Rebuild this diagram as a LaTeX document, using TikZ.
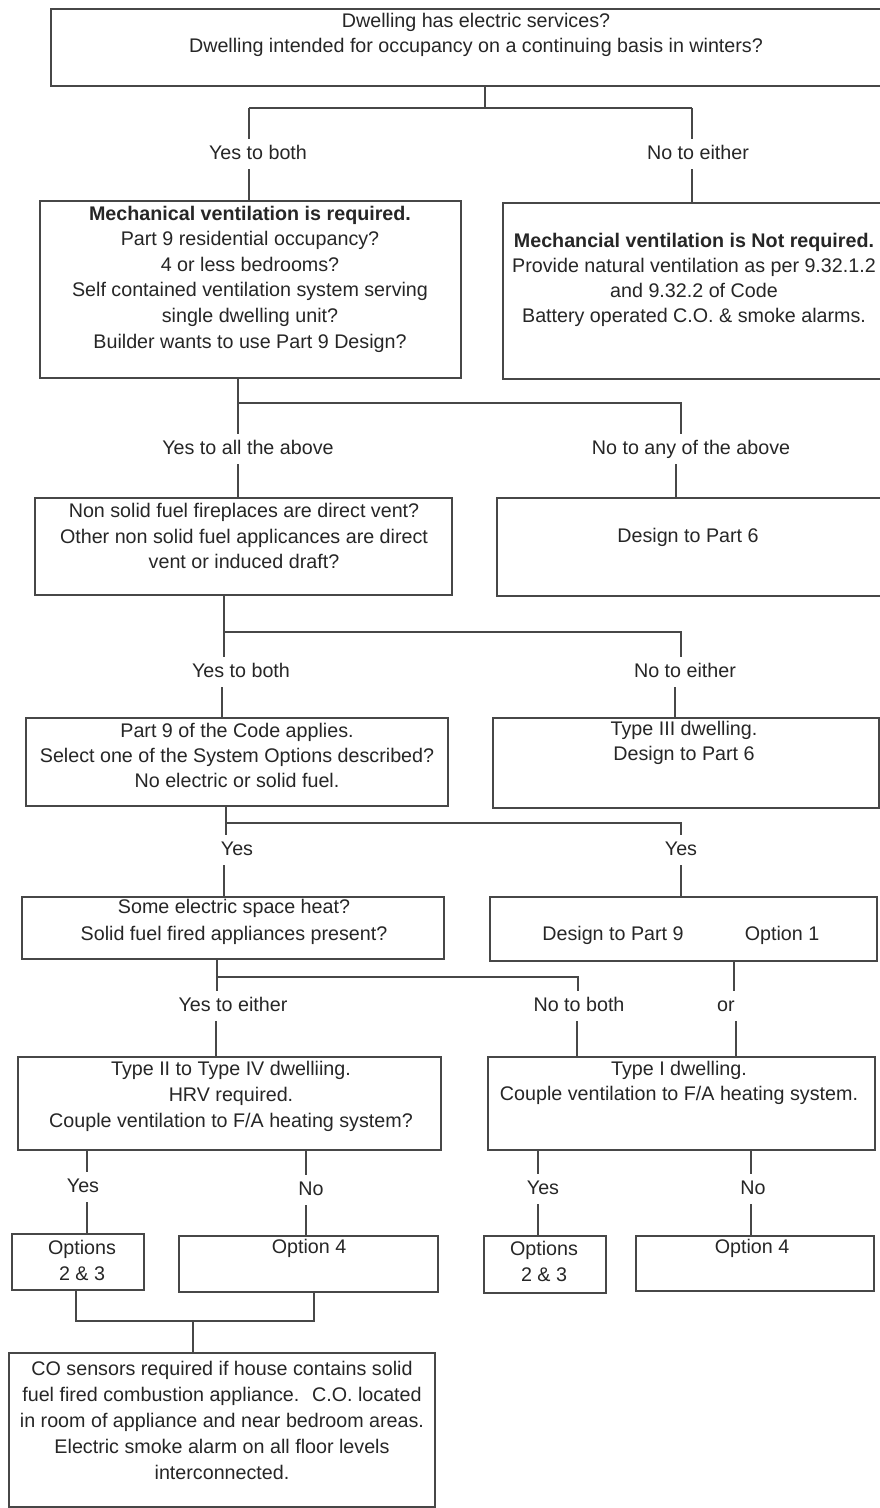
\documentclass[tikz,border=0pt]{standalone}
\usepackage{fontspec}
\setmainfont{Liberation Sans}
\newcommand\mybox[5]{\node[box,anchor=north west,minimum width={#4-#2},minimum height={#5-#3}] (#1) at (#2,#3) {};}
\begin{document}
\begin{tikzpicture}[x=1pt,y=-1pt,
  box/.style={draw=black!72,line width=1.6pt,inner sep=0pt},
  txt/.style={text=black!85,font=\fontsize{19.7}{25.6}\selectfont,align=center,inner sep=0pt},
  lbl/.style={text=black!85,font=\fontsize{19.7}{25.6}\selectfont,text height=15pt,text depth=5pt,inner xsep=2pt,inner ysep=5pt,anchor=base},
  conn/.style={draw=black!72,line width=1.1pt}]
\fill[white] (0,0) rectangle (879,1508);
\useasboundingbox (0,0) rectangle (879,1508);

% boxes
\mybox{b1}{50}{8}{900}{85}
\mybox{b2L}{39}{200}{460}{377}
\mybox{b2R}{502}{202}{900}{378}
\mybox{b3L}{34}{497}{451}{594}
\mybox{b3R}{496}{497}{900}{595}
\mybox{b4L}{25}{717}{447}{805}
\mybox{b4R}{492}{717}{878}{807}
\mybox{b5L}{21}{896}{443}{958}
\mybox{b5R}{489}{896}{876}{960}
\mybox{b6L}{17}{1056}{440}{1149}
\mybox{b6R}{487}{1056}{874}{1149}
\mybox{b7a}{11}{1233}{143}{1289}
\mybox{b7b}{178}{1235}{437}{1291}
\mybox{b7c}{483}{1235}{605}{1292}
\mybox{b7d}{635}{1235}{873}{1290}
\mybox{b8}{8}{1352}{434}{1506}

% box texts
\node[txt] (t1) at (476,35) {Dwelling has electric services?\\Dwelling intended for occupancy on a continuing basis in winters?};
\node[txt] (t2L) at (250,279) {\textbf{Mechanical ventilation is required.}\\Part 9 residential occupancy?\\4 or less bedrooms?\\Self contained ventilation system serving\\single dwelling unit?\\Builder wants to use Part 9 Design?};
\node[txt,font=\fontsize{19.7}{25}\selectfont] (t2R) at (694,280) {\textbf{Mechancial ventilation is Not required.}\\Provide natural ventilation as per 9.32.1.2\\and 9.32.2 of Code\\Battery operated C.O. \& smoke alarms.};
\node[txt] (t3L) at (244,536) {Non solid fuel fireplaces are direct vent?\\Other non solid fuel applicances are direct\\vent or induced draft?};
\node[txt] (t3R) at (688,537) {Design to Part 6};
\node[txt,font=\fontsize{19.7}{25}\selectfont] (t4L) at (237,755) {Part 9 of the Code applies.\\Select one of the System Options described?\\No electric or solid fuel.};
\node[txt,font=\fontsize{19.7}{25}\selectfont] (t4R) at (684,742.5) {Type III dwelling.\\Design to Part 6};
\node[txt,font=\fontsize{19.7}{27}\selectfont] (t5L) at (234,921.5) {Some electric space heat?\\Solid fuel fired appliances present?};
\node[txt] (t5R1) at (613,935) {Design to Part 9};
\node[txt] (t5R2) at (782,935) {Option 1};
\node[txt,font=\fontsize{19.7}{26}\selectfont] (t6L) at (231,1096) {Type II to Type IV dwelliing.\\HRV required.\\Couple ventilation to F/A heating system?};
\node[txt,font=\fontsize{19.7}{25}\selectfont] (t6R) at (679,1082.5) {Type I dwelling.\\Couple ventilation to F/A heating system.};
\node[txt,font=\fontsize{19.7}{26}\selectfont] (t7a) at (82,1260) {Options\\2 \& 3};
\node[txt] (t7b) at (309,1248) {Option 4};
\node[txt,font=\fontsize{19.7}{26}\selectfont] (t7c) at (544,1261) {Options\\2 \& 3};
\node[txt] (t7d) at (752,1248) {Option 4};
\node[txt,font=\fontsize{19.7}{26}\selectfont] (t8) at (222,1420.5) {CO sensors required if house contains solid\\fuel fired combustion appliance.~ C.O. located\\in room of appliance and near bedroom areas.\\Electric smoke alarm on all floor levels\\interconnected.};

% labels
\node[lbl] (l1a) at (258,159) {Yes to both};
\node[lbl] (l1b) at (698,159) {No to either};
\node[lbl] (l2a) at (248,454) {Yes to all the above};
\node[lbl] (l2b) at (691,454) {No to any of the above};
\node[lbl] (l3a) at (241,677) {Yes to both};
\node[lbl] (l3b) at (685,677) {No to either};
\node[lbl] (l4a) at (237,855) {Yes};
\node[lbl] (l4b) at (681,855) {Yes};
\node[lbl] (l5a) at (233,1011) {Yes to either};
\node[lbl] (l5b) at (579,1011) {No to both};
\node[lbl] (l5c) at (726,1011) {or};
\node[lbl] (l6a) at (83,1192) {Yes};
\node[lbl] (l6b) at (311,1195) {No};
\node[lbl] (l6c) at (543,1194) {Yes};
\node[lbl] (l6d) at (753,1194) {No};

% junction coordinates
\coordinate (j1) at (485,108);
\coordinate (j1L) at (249,108);
\coordinate (j1R) at (692,108);
\coordinate (j2L) at (238,403);
\coordinate (j2R) at (681,403);
\coordinate (k2R) at (676,470);
\coordinate (j3L) at (224,632);
\coordinate (j3R) at (681,632);
\coordinate (k3L) at (222,700);
\coordinate (k3R) at (675,700);
\coordinate (j4L) at (226,823);
\coordinate (j4R) at (681,823);
\coordinate (k4L) at (224,880);
\coordinate (j5L) at (217,977);
\coordinate (j5M) at (578,977);
\coordinate (k5R) at (734,975);
\coordinate (m5L) at (216,1040);
\coordinate (m5M) at (577,1040);
\coordinate (m5R) at (736,1040);
\coordinate (c6a) at (87,1160);
\coordinate (c6b) at (306,1160);
\coordinate (c6c) at (538,1160);
\coordinate (c6d) at (751,1160);
\coordinate (j7L) at (76,1321);
\coordinate (j7M) at (193,1321);
\coordinate (j7R) at (314,1321);

% connectors
\draw[conn] (b1.south -| j1) -- (j1);
\draw[conn] (j1L) -- (j1R);
\draw[conn] (j1L) -- (j1L |- l1a.north);
\draw[conn] (l1a.south -| j1L) -- (b2L.north -| j1L);
\draw[conn] (j1R) -- (j1R |- l1b.north);
\draw[conn] (l1b.south -| j1R) -- (b2R.north -| j1R);

\draw[conn] (b2L.south -| j2L) -- (j2L) -- (j2R) -- (j2R |- l2b.north);
\draw[conn] (j2L) -- (j2L |- l2a.north);
\draw[conn] (l2a.south -| j2L) -- (b3L.north -| j2L);
\draw[conn] (l2b.south -| k2R) -- (b3R.north -| k2R);

\draw[conn] (b3L.south -| j3L) -- (j3L) -- (j3R) -- (j3R |- l3b.north);
\draw[conn] (j3L) -- (j3L |- l3a.north);
\draw[conn] (l3a.south -| k3L) -- (b4L.north -| k3L);
\draw[conn] (l3b.south -| k3R) -- (b4R.north -| k3R);

\draw[conn] (b4L.south -| j4L) -- (j4L) -- (j4R) -- (j4R |- l4b.north);
\draw[conn] (j4L) -- (j4L |- l4a.north);
\draw[conn] (l4a.south -| k4L) -- (b5L.north -| k4L);
\draw[conn] (l4b.south -| j4R) -- (b5R.north -| j4R);

\draw[conn] (b5L.south -| j5L) -- (j5L) -- (j5M) -- (j5M |- l5b.north);
\draw[conn] (j5L) -- (j5L |- l5a.north);
\draw[conn] (b5R.south -| k5R) -- (k5R |- l5c.north);
\draw[conn] (l5a.south -| m5L) -- (b6L.north -| m5L);
\draw[conn] (l5b.south -| m5M) -- (b6R.north -| m5M);
\draw[conn] (l5c.south -| m5R) -- (b6R.north -| m5R);

\draw[conn] (b6L.south -| c6a) -- (c6a |- l6a.north);
\draw[conn] (l6a.south -| c6a) -- (b7a.north -| c6a);
\draw[conn] (b6L.south -| c6b) -- (c6b |- l6b.north);
\draw[conn] (l6b.south -| c6b) -- (b7b.north -| c6b);
\draw[conn] (b6R.south -| c6c) -- (c6c |- l6c.north);
\draw[conn] (l6c.south -| c6c) -- (b7c.north -| c6c);
\draw[conn] (b6R.south -| c6d) -- (c6d |- l6d.north);
\draw[conn] (l6d.south -| c6d) -- (b7d.north -| c6d);

\draw[conn] (b7a.south -| j7L) -- (j7L) -- (j7R) -- (b7b.south -| j7R);
\draw[conn] (j7M) -- (b8.north -| j7M);
\end{tikzpicture}
\end{document}
